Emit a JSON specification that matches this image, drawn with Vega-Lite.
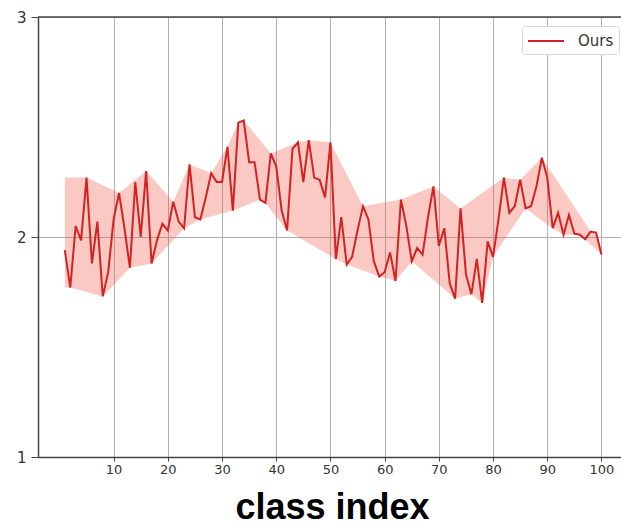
{
  "$schema": "https://vega.github.io/schema/vega-lite/v6.json",
  "width": 583,
  "height": 440,
  "autosize": {"type": "none"},
  "padding": {"left": 38, "top": 17, "right": 0, "bottom": 69},
  "background": "white",
  "config": {
    "view": {"stroke": null},
    "font": "DejaVu Sans",
    "axisX": {"titleFont": "Liberation Sans", "titleFontSize": 36, "titleFontWeight": "bold", "titleColor": "#000000",
      "titleY": 61, "titleX": 294, "titleBaseline": "alphabetic",
      "labelFontSize": 13, "labelColor": "#333333", "labelPadding": 2, "labelFlush": false,
      "tickSize": 4, "tickColor": "#444444", "domainColor": "#444444", "domainWidth": 1.5,
      "grid": true, "gridColor": "#b0b0b0", "gridWidth": 1}
  },
  "datasets": {
    "series": [{"x":1,"y":1.94},{"x":2,"y":1.77},{"x":3,"y":2.05},{"x":4,"y":1.985},{"x":5,"y":2.27},{"x":6,"y":1.88},{"x":7,"y":2.07},{"x":8,"y":1.73},{"x":9,"y":1.84},{"x":10,"y":2.08},{"x":11,"y":2.2},{"x":12,"y":2.04},{"x":13,"y":1.86},{"x":14,"y":2.25},{"x":15,"y":2.0},{"x":16,"y":2.3},{"x":17,"y":1.88},{"x":18,"y":1.985},{"x":19,"y":2.06},{"x":20,"y":2.03},{"x":21,"y":2.16},{"x":22,"y":2.07},{"x":23,"y":2.04},{"x":24,"y":2.33},{"x":25,"y":2.09},{"x":26,"y":2.08},{"x":27,"y":2.18},{"x":28,"y":2.29},{"x":29,"y":2.25},{"x":30,"y":2.25},{"x":31,"y":2.41},{"x":32,"y":2.12},{"x":33,"y":2.52},{"x":34,"y":2.53},{"x":35,"y":2.34},{"x":36,"y":2.34},{"x":37,"y":2.17},{"x":38,"y":2.155},{"x":39,"y":2.38},{"x":40,"y":2.32},{"x":41,"y":2.12},{"x":42,"y":2.03},{"x":43,"y":2.4},{"x":44,"y":2.43},{"x":45,"y":2.25},{"x":46,"y":2.44},{"x":47,"y":2.27},{"x":48,"y":2.26},{"x":49,"y":2.18},{"x":50,"y":2.43},{"x":51,"y":1.9},{"x":52,"y":2.09},{"x":53,"y":1.875},{"x":54,"y":1.91},{"x":55,"y":2.03},{"x":56,"y":2.14},{"x":57,"y":2.08},{"x":58,"y":1.89},{"x":59,"y":1.82},{"x":60,"y":1.84},{"x":61,"y":1.93},{"x":62,"y":1.8},{"x":63,"y":2.17},{"x":64,"y":2.05},{"x":65,"y":1.89},{"x":66,"y":1.95},{"x":67,"y":1.92},{"x":68,"y":2.09},{"x":69,"y":2.23},{"x":70,"y":1.96},{"x":71,"y":2.04},{"x":72,"y":1.79},{"x":73,"y":1.72},{"x":74,"y":2.13},{"x":75,"y":1.83},{"x":76,"y":1.74},{"x":77,"y":1.9},{"x":78,"y":1.7},{"x":79,"y":1.98},{"x":80,"y":1.91},{"x":81,"y":2.08},{"x":82,"y":2.27},{"x":83,"y":2.11},{"x":84,"y":2.14},{"x":85,"y":2.26},{"x":86,"y":2.13},{"x":87,"y":2.14},{"x":88,"y":2.23},{"x":89,"y":2.36},{"x":90,"y":2.27},{"x":91,"y":2.04},{"x":92,"y":2.11},{"x":93,"y":2.01},{"x":94,"y":2.1},{"x":95,"y":2.015},{"x":96,"y":2.01},{"x":97,"y":1.99},{"x":98,"y":2.025},{"x":99,"y":2.02},{"x":100,"y":1.92}],
    "band": [{"o":1,"x":1,"y":2.27},{"o":2,"x":5,"y":2.27},{"o":3,"x":11,"y":2.2},{"o":4,"x":16,"y":2.3},{"o":5,"x":21,"y":2.16},{"o":6,"x":24,"y":2.33},{"o":7,"x":28,"y":2.29},{"o":8,"x":31,"y":2.41},{"o":9,"x":33,"y":2.52},{"o":10,"x":34,"y":2.53},{"o":11,"x":39,"y":2.38},{"o":12,"x":44,"y":2.43},{"o":13,"x":46,"y":2.44},{"o":14,"x":50,"y":2.43},{"o":15,"x":56,"y":2.14},{"o":16,"x":63,"y":2.17},{"o":17,"x":69,"y":2.23},{"o":18,"x":74,"y":2.13},{"o":19,"x":82,"y":2.27},{"o":20,"x":85,"y":2.26},{"o":21,"x":89,"y":2.36},{"o":22,"x":98,"y":2.025},{"o":23,"x":99,"y":2.02},{"o":24,"x":100,"y":1.92},{"o":25,"x":97,"y":1.99},{"o":26,"x":96,"y":2.01},{"o":27,"x":93,"y":2.01},{"o":28,"x":91,"y":2.04},{"o":29,"x":86,"y":2.13},{"o":30,"x":80,"y":1.91},{"o":31,"x":78,"y":1.7},{"o":32,"x":76,"y":1.74},{"o":33,"x":73,"y":1.72},{"o":34,"x":65,"y":1.89},{"o":35,"x":62,"y":1.8},{"o":36,"x":59,"y":1.82},{"o":37,"x":53,"y":1.875},{"o":38,"x":51,"y":1.9},{"o":39,"x":42,"y":2.03},{"o":40,"x":38,"y":2.155},{"o":41,"x":37,"y":2.17},{"o":42,"x":32,"y":2.12},{"o":43,"x":26,"y":2.08},{"o":44,"x":23,"y":2.04},{"o":45,"x":17,"y":1.88},{"o":46,"x":13,"y":1.86},{"o":47,"x":8,"y":1.73},{"o":48,"x":2,"y":1.77},{"o":49,"x":1,"y":1.77}]
  },
  "layer": [
    {
      "data": {"name": "band"},
      "mark": {"type": "line", "color": "#ee4c3c", "fill": "#ee4c3c", "fillOpacity": 0.3, "strokeWidth": 0, "strokeOpacity": 0, "clip": true},
      "encoding": {
        "x": {"field": "x", "type": "quantitative",
          "scale": {"domain": [-3.95, 103.6], "nice": false, "zero": false},
          "axis": {"values": [10,20,30,40,50,60,70,80,90,100], "title": "class index"}},
        "y": {"field": "y", "type": "quantitative",
          "scale": {"domain": [1, 3], "nice": false, "zero": false},
          "axis": {"tickCount": 2, "title": null, "labelFontSize": 15, "labelColor": "#333333", "labelPadding": 5,
            "labelOverlap": false, "tickSize": 7, "tickColor": "#444444", "domainColor": "#444444", "domainWidth": 1.5,
            "grid": true, "gridColor": "#b0b0b0", "gridWidth": 1}},
        "order": {"field": "o", "type": "quantitative"}
      }
    },
    {
      "data": {"name": "series"},
      "mark": {"type": "line", "strokeWidth": 2, "clip": true},
      "encoding": {
        "x": {"field": "x", "type": "quantitative"},
        "y": {"field": "y", "type": "quantitative"},
        "color": {"datum": "Ours", "type": "nominal",
          "scale": {"range": ["#d42222"]},
          "legend": {"orient": "none", "legendX": 484, "legendY": 9, "title": null,
            "symbolType": "M-1,0H3", "symbolSize": 324, "symbolStrokeWidth": 2,
            "labelFontSize": 15, "labelColor": "#333333", "labelOffset": 31,
            "padding": 5, "strokeColor": "#d8d8d8", "fillColor": "#ffffff", "cornerRadius": 3}}
      }
    },
    {
      "data": {"values": [{}]},
      "mark": {"type": "rule", "color": "#444444", "strokeWidth": 1.5},
      "encoding": {"y": {"datum": 3, "type": "quantitative"}}
    }
  ]
}
